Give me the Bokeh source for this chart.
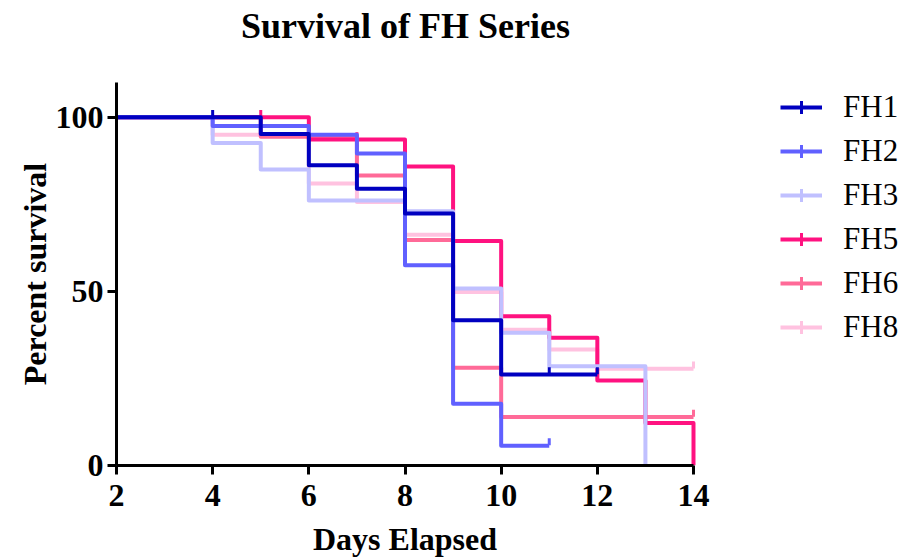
import numpy as np
from bokeh.plotting import figure
from bokeh.models import Range1d, Legend, LegendItem, FixedTicker, Title, ColumnDataSource
from bokeh.embed import file_html
from bokeh.resources import INLINE

# ---- data ----
series = ["FH1", "FH2", "FH3", "FH5", "FH6", "FH8"]
colors = ["#0000C0", "#6060FF", "#C0C0FF", "#FF1280", "#FF6A98", "#FFC2E0"]

fh1_days = [0, 5, 6, 7, 8, 9, 10, 12]
fh1_surv = [100, 95.2, 86.2, 79.5, 72.4, 41.7, 26.1, 26.1]
fh1_cens_days = [4, 11, 12]
fh1_cens_surv = [100, 26.1, 26.1]

fh2_days = [0, 4, 6, 7, 8, 9, 10, 11]
fh2_surv = [100, 97.5, 95.0, 89.6, 57.5, 17.7, 5.7, 5.7]
fh2_cens_days = [11]
fh2_cens_surv = [5.7]

fh3_days = [0, 4, 5, 6, 8, 9, 10, 11, 13]
fh3_surv = [100, 92.6, 85.0, 76.1, 73.0, 50.8, 38.1, 28.5, 0]
fh3_cens_days = []
fh3_cens_surv = []

fh5_days = [0, 6, 8, 9, 10, 11, 12, 13, 14]
fh5_surv = [100, 93.6, 85.9, 64.5, 42.9, 36.7, 24.4, 12.2, 0]
fh5_cens_days = [5, 7]
fh5_cens_surv = [100, 93.6]

fh6_days = [0, 5, 7, 8, 9, 10, 14]
fh6_surv = [100, 94.4, 83.3, 64.8, 28.1, 13.9, 13.9]
fh6_cens_days = [14]
fh6_cens_surv = [13.9]

fh8_days = [0, 4, 6, 7, 8, 9, 10, 11, 12, 14]
fh8_surv = [100, 95.0, 81.0, 75.7, 66.3, 49.8, 39.0, 33.3, 27.8, 27.8]
fh8_cens_days = [14]
fh8_cens_surv = [27.8]

x_ticks = [2, 4, 6, 8, 10, 12, 14]
y_ticks = [0, 50, 100]

title_text = "Survival of FH Series"
x_label = "Days Elapsed"
y_label = "Percent survival"

data = {
    "FH1": (fh1_days, fh1_surv, fh1_cens_days, fh1_cens_surv),
    "FH2": (fh2_days, fh2_surv, fh2_cens_days, fh2_cens_surv),
    "FH3": (fh3_days, fh3_surv, fh3_cens_days, fh3_cens_surv),
    "FH5": (fh5_days, fh5_surv, fh5_cens_days, fh5_cens_surv),
    "FH6": (fh6_days, fh6_surv, fh6_cens_days, fh6_cens_surv),
    "FH8": (fh8_days, fh8_surv, fh8_cens_days, fh8_cens_surv),
}

SERIF = "Liberation Serif"

# layout: axis spans x 116..693 px for days 2..14 and y 465..82 px for 0..110 %;
# the frame is extended to the right so the legend can sit in it (axis limited by bounds)
W, H = 906, 557
left_px, axis_right_px = 116, 693
top_px, bottom_px = 82, 465
x_start, x_end_axis = 2, 14
y_start, y_end = 0, 110
px_per_day = (axis_right_px - left_px) / (x_end_axis - x_start)
x_end = x_start + (W - left_px) / px_per_day

p = figure(width=W, height=H, output_backend="svg", toolbar_location=None, title=None,
           x_range=Range1d(x_start, x_end), y_range=Range1d(y_start, y_end),
           min_border_left=left_px, min_border_right=0,
           min_border_top=top_px, min_border_bottom=H - bottom_px)

p.xgrid.visible = False
p.ygrid.visible = False
p.outline_line_color = None
p.background_fill_color = "white"
p.border_fill_color = "white"

for ax in (p.xaxis[0], p.yaxis[0]):
    ax.axis_line_width = 3
    ax.axis_line_color = "black"
    ax.major_tick_line_width = 3
    ax.major_tick_line_color = "black"
    ax.major_tick_out = 9
    ax.major_tick_in = 0
    ax.minor_tick_line_color = None
    ax.major_label_text_font = SERIF
    ax.major_label_text_font_style = "bold"
    ax.major_label_text_font_size = "32px"
    ax.major_label_text_color = "black"
    ax.axis_label_text_font = SERIF
    ax.axis_label_text_font_style = "bold"
    ax.axis_label_text_font_size = "32px"
    ax.axis_label_text_color = "black"

p.xaxis.ticker = FixedTicker(ticks=x_ticks)
p.yaxis.ticker = FixedTicker(ticks=y_ticks)
p.xaxis.bounds = (x_start, x_end_axis)
p.yaxis.axis_label = y_label
p.xaxis.major_label_standoff = 10
p.yaxis.major_label_standoff = 4
p.yaxis.axis_label_standoff = 0

axis_center_off = (axis_right_px - left_px) / 2


def spacer(gap):
    return Title(text=" ", text_font_size="1px", standoff=gap)


# main title (spacer between it and the frame lifts it to the top of the page)
p.add_layout(spacer(32), "above")
p.add_layout(Title(text=title_text, align="left", offset=axis_center_off - 164,
                   vertical_align="top", standoff=0,
                   text_font=SERIF, text_font_size="36px", text_font_style="bold",
                   text_color="black"), "above")

# x-axis title, centred under the axis span
p.add_layout(spacer(7), "below")
p.add_layout(Title(text=x_label, align="left", offset=axis_center_off - 92,
                   vertical_align="bottom", standoff=0,
                   text_font=SERIF, text_font_size="32px", text_font_style="bold",
                   text_color="black"), "below")

tick_off = 1.1  # censor tick sits just above the curve
items = {}
for name, col in reversed(list(zip(series, colors))):
    d, s, cd, cs = data[name]
    r_line = p.step(x=d, y=s, mode="after", line_color=col,
                    line_width=4, line_join="round")
    p.scatter(x=cd, y=[v + tick_off for v in cs], marker="dash", angle=np.pi / 2,
              size=7, line_color=col, line_width=3)
    # legend-only key for the censor tick (undefined position: nothing drawn in the plot)
    key_src = ColumnDataSource(data=dict(x=[np.nan], y=[np.nan]))
    r_key = p.scatter(x="x", y="y", source=key_src, marker="cross", size=8,
                      line_color=col, line_width=3)
    items[name] = LegendItem(label=name, renderers=[r_line, r_key])

legend = Legend(items=[items[n] for n in series], location=(664, 120),
                orientation="vertical")
legend.label_text_font = SERIF
legend.label_text_font_size = "31px"
legend.label_text_color = "black"
legend.glyph_width = 42
legend.glyph_height = 32
legend.label_height = 32
legend.spacing = 8
legend.label_standoff = 21
legend.padding = 0
legend.margin = 0
legend.border_line_color = None
legend.background_fill_alpha = 0
p.add_layout(legend)

open("out.html", "w").write(file_html(p, INLINE))
